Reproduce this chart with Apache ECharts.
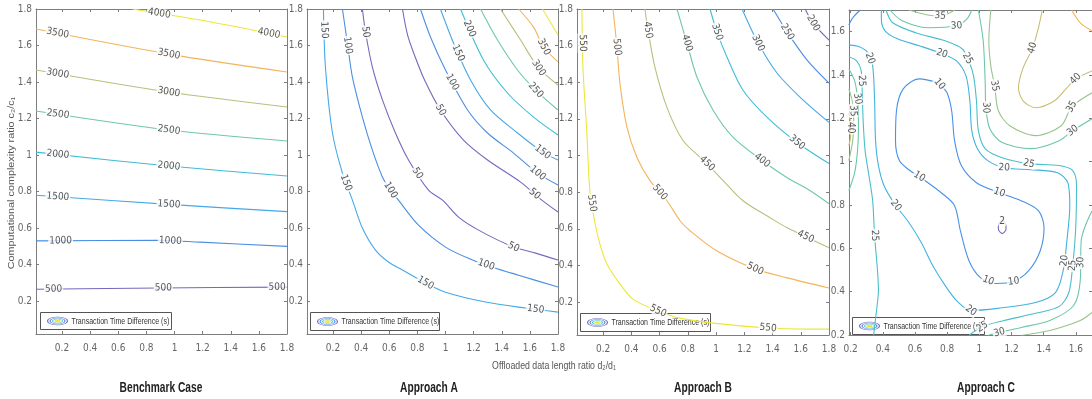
<!DOCTYPE html>
<html>
<head>
<meta charset="utf-8">
<script src="https://cdn.jsdelivr.net/npm/echarts@6/dist/echarts.min.js"></script>
<style>
  html, body { margin: 0; padding: 0; background: #fff; }
  #main { width: 1092px; height: 399px; }
</style>
</head>
<body>
<div id="main"></div>
<script>
// tick values of the ratio axes
var ratioTicks = [0.2, 0.4, 0.6, 0.8, 1, 1.2, 1.4, 1.6, 1.8];
var ratioTicksC = [0.2, 0.4, 0.6, 0.8, 1, 1.2, 1.4, 1.6];

// contour levels per panel (first/last give the colour range)
var benchLevels = [500, 1000, 1500, 2000, 2500, 3000, 3500, 4000];
var aLevels = [50, 100, 150, 200, 250, 300, 350, 400];
var bLevels = [200, 250, 300, 350, 400, 450, 500, 550];
var cLevels = [2, 10, 20, 25, 30, 35, 40, 45, 52];

// traced contour lines: [d2/d1, c2/c1] points and where the inline labels sit
var benchLines = [
  { level: 500, pts: [[0.015, 0.265], [0.9, 0.272], [1.8, 0.277]], marks: [[0.14, 0.266], [0.92, 0.272], [1.73, 0.277]] },
  { level: 1000, pts: [[0.015, 0.53], [0.88, 0.533], [1.18, 0.523], [1.8, 0.5]], marks: [[0.19, 0.53], [0.97, 0.53]] },
  { level: 1500, pts: [[0.015, 0.78], [0.96, 0.73], [1.8, 0.69]], marks: [[0.17, 0.77], [0.96, 0.73]] },
  { level: 2000, pts: [[0.015, 1.016], [0.96, 0.94], [1.8, 0.885]], marks: [[0.17, 1.0], [0.96, 0.94]] },
  { level: 2500, pts: [[0.015, 1.241], [0.96, 1.137], [1.8, 1.077]], marks: [[0.17, 1.22], [0.96, 1.137]] },
  { level: 3000, pts: [[0.015, 1.466], [0.96, 1.345], [1.8, 1.263]], marks: [[0.17, 1.45], [0.96, 1.345]] },
  { level: 3500, pts: [[0.015, 1.69], [0.96, 1.553], [1.8, 1.455]], marks: [[0.17, 1.67], [0.96, 1.553]] },
  { level: 4000, pts: [[0.7, 1.8], [1.26, 1.729], [1.8, 1.647]], marks: [[0.89, 1.77], [1.67, 1.66]] }
];

var aLines = [
  { level: 150, pts: [[0.132, 1.8], [0.146, 1.482], [0.196, 1.121], [0.267, 0.901], [0.338, 0.753], [0.409, 0.6], [0.502, 0.479], [0.594, 0.414], [0.694, 0.37], [0.858, 0.299], [1.0, 0.249], [1.285, 0.195], [1.569, 0.162], [1.8, 0.14]], marks: [[0.132, 1.685], [0.288, 0.847], [0.858, 0.3], [1.641, 0.155]] },
  { level: 100, pts: [[0.267, 1.8], [0.302, 1.614], [0.338, 1.427], [0.409, 1.208], [0.48, 1.027], [0.552, 0.879], [0.609, 0.808], [0.665, 0.753], [0.808, 0.616], [1.0, 0.496], [1.192, 0.425], [1.335, 0.386], [1.52, 0.342], [1.8, 0.277]], marks: [[0.302, 1.6], [0.609, 0.808], [1.285, 0.39]] },
  { level: 50, pts: [[0.409, 1.8], [0.431, 1.674], [0.48, 1.482], [0.552, 1.301], [0.644, 1.121], [0.737, 0.973], [0.879, 0.808], [0.979, 0.753], [1.093, 0.66], [1.235, 0.589], [1.484, 0.496], [1.641, 0.463], [1.8, 0.425]], marks: [[0.431, 1.674], [0.801, 0.9], [1.484, 0.496]] },
  { level: 50, pts: [[0.694, 1.8], [0.73, 1.658], [0.779, 1.548], [0.851, 1.411], [0.964, 1.247], [1.128, 1.082], [1.299, 0.973], [1.534, 0.852], [1.676, 0.759], [1.8, 0.688]], marks: [[0.964, 1.247], [1.626, 0.78]] },
  { level: 100, pts: [[0.822, 1.8], [0.893, 1.647], [1.0, 1.466], [1.157, 1.247], [1.299, 1.121], [1.484, 1.011], [1.655, 0.901], [1.8, 0.836]], marks: [[1.05, 1.4], [1.655, 0.901]] },
  { level: 150, pts: [[0.964, 1.8], [1.057, 1.614], [1.178, 1.411], [1.32, 1.247], [1.512, 1.121], [1.69, 1.016], [1.8, 0.973]], marks: [[1.093, 1.56], [1.69, 1.016]] },
  { level: 200, pts: [[1.107, 1.8], [1.27, 1.521], [1.441, 1.34], [1.626, 1.208], [1.8, 1.11]], marks: [[1.164, 1.69]] },
  { level: 250, pts: [[1.249, 1.8], [1.37, 1.63], [1.512, 1.466], [1.641, 1.356], [1.8, 1.247]], marks: [[1.641, 1.356]] },
  { level: 300, pts: [[1.391, 1.8], [1.534, 1.63], [1.662, 1.477], [1.8, 1.384]], marks: [[1.662, 1.477]] },
  { level: 350, pts: [[1.52, 1.8], [1.626, 1.701], [1.698, 1.592], [1.8, 1.51]], marks: [[1.698, 1.592]] },
  { level: 400, pts: [[1.69, 1.8], [1.8, 1.658]], marks: [] }
];

var bLines = [
  { level: 550, pts: [[0.05, 1.8], [0.057, 1.482], [0.085, 1.121], [0.106, 0.808], [0.142, 0.633], [0.177, 0.518], [0.227, 0.408], [0.319, 0.299], [0.411, 0.216], [0.589, 0.151], [0.745, 0.112], [0.979, 0.085], [1.369, 0.058], [1.617, 0.052], [1.8, 0.052]], marks: [[0.05, 1.614], [0.121, 0.74], [0.589, 0.151], [1.369, 0.058]] },
  { level: 500, pts: [[0.27, 1.8], [0.298, 1.592], [0.319, 1.395], [0.369, 1.153], [0.44, 0.989], [0.532, 0.863], [0.652, 0.753], [0.745, 0.644], [0.816, 0.589], [1.007, 0.479], [1.277, 0.381], [1.504, 0.332], [1.8, 0.277]], marks: [[0.298, 1.592], [0.603, 0.8], [1.277, 0.381]] },
  { level: 450, pts: [[0.496, 1.8], [0.518, 1.685], [0.567, 1.482], [0.652, 1.263], [0.766, 1.082], [0.936, 0.956], [1.05, 0.863], [1.191, 0.753], [1.383, 0.66], [1.504, 0.605], [1.8, 0.496]], marks: [[0.518, 1.685], [0.936, 0.956], [1.631, 0.55]] },
  { level: 400, pts: [[0.723, 1.8], [0.794, 1.614], [0.865, 1.427], [0.979, 1.247], [1.121, 1.099], [1.326, 0.973], [1.504, 0.879], [1.667, 0.808], [1.8, 0.737]], marks: [[0.794, 1.614], [1.326, 0.973]] },
  { level: 350, pts: [[0.957, 1.8], [1.007, 1.674], [1.078, 1.537], [1.191, 1.356], [1.362, 1.208], [1.574, 1.071], [1.8, 0.956]], marks: [[1.007, 1.674], [1.574, 1.071]] },
  { level: 300, pts: [[1.184, 1.8], [1.298, 1.614], [1.433, 1.449], [1.596, 1.318], [1.8, 1.181]], marks: [[1.298, 1.614]] },
  { level: 250, pts: [[1.404, 1.8], [1.504, 1.674], [1.645, 1.521], [1.8, 1.395]], marks: [[1.504, 1.674]] },
  { level: 200, pts: [[1.631, 1.8], [1.688, 1.723], [1.8, 1.63]], marks: [[1.688, 1.723]] }
];

var cLines = [
  { level: 10, pts: [[0.189, 1.631], [0.213, 1.664], [0.26, 1.7]], marks: [] },
  { level: 20, pts: [[0.189, 1.539], [0.254, 1.53], [0.308, 1.502], [0.337, 1.442], [0.349, 1.281], [0.355, 1.097], [0.373, 0.982], [0.408, 0.889], [0.473, 0.806], [0.562, 0.719], [0.639, 0.627], [0.71, 0.521], [0.787, 0.429], [0.858, 0.359], [0.947, 0.313], [1.112, 0.323], [1.349, 0.35], [1.473, 0.396], [1.521, 0.498], [1.544, 0.636], [1.562, 0.797], [1.55, 0.903], [1.485, 0.949], [1.32, 0.963], [1.154, 0.972], [1.053, 1.005], [0.988, 1.06], [0.953, 1.143], [0.941, 1.281], [0.917, 1.396], [0.858, 1.465], [0.769, 1.498], [0.627, 1.535], [0.491, 1.567], [0.414, 1.604], [0.391, 1.659], [0.391, 1.7]], marks: [[0.314, 1.475], [0.479, 0.797], [0.947, 0.309], [1.515, 0.544], [1.154, 0.968], [0.769, 1.502]] },
  { level: 10, pts: [[0.746, 1.364], [0.627, 1.382], [0.527, 1.336], [0.485, 1.235], [0.479, 1.097], [0.503, 1.005], [0.568, 0.959], [0.627, 0.931], [0.769, 0.853], [0.846, 0.797], [0.882, 0.682], [0.935, 0.544], [1.006, 0.465], [1.101, 0.438], [1.213, 0.447], [1.308, 0.498], [1.379, 0.59], [1.402, 0.696], [1.367, 0.774], [1.26, 0.82], [1.124, 0.857], [0.982, 0.903], [0.888, 0.982], [0.846, 1.097], [0.828, 1.235], [0.799, 1.318], [0.746, 1.364]], marks: [[0.74, 1.35], [0.627, 0.931], [1.053, 0.447], [1.213, 0.447], [1.124, 0.857]] },
  { level: 2, pts: [[1.132, 0.726], [1.152, 0.726], [1.163, 0.71], [1.166, 0.696], [1.163, 0.682], [1.142, 0.668], [1.121, 0.682], [1.118, 0.696], [1.121, 0.71], [1.132, 0.726]], marks: [[1.142, 0.726]] },
  { level: 25, pts: [[0.189, 1.484], [0.237, 1.465], [0.266, 1.419], [0.272, 1.327], [0.278, 1.189], [0.29, 1.051], [0.314, 0.935], [0.337, 0.82], [0.349, 0.659], [0.367, 0.498], [0.373, 0.406], [0.361, 0.313], [0.343, 0.198]], marks: [[0.266, 1.373], [0.349, 0.659]] },
  { level: 30, pts: [[0.189, 1.429], [0.225, 1.373], [0.243, 1.29], [0.249, 1.166], [0.243, 1.051], [0.225, 0.949], [0.189, 0.866]], marks: [[0.243, 1.29]] },
  { level: 35, pts: [[0.189, 1.336], [0.213, 1.272], [0.219, 1.198], [0.213, 1.097], [0.189, 1.005]], marks: [[0.213, 1.235]] },
  { level: 40, pts: [[0.189, 1.221], [0.2, 1.175], [0.2, 1.12], [0.189, 1.074]], marks: [[0.198, 1.157]] },
  { level: 30, pts: [[0.444, 1.7], [0.521, 1.65], [0.68, 1.618], [0.858, 1.627], [0.923, 1.659], [0.953, 1.7]], marks: [[0.858, 1.627]] },
  { level: 35, pts: [[0.562, 1.7], [0.68, 1.677], [0.757, 1.673], [0.817, 1.687], [0.846, 1.7]], marks: [[0.757, 1.673]] },
  { level: 25, pts: [[0.42, 1.7], [0.462, 1.641], [0.609, 1.594], [0.787, 1.558], [0.893, 1.521], [0.935, 1.465], [0.964, 1.396], [0.982, 1.281], [0.994, 1.143], [1.036, 1.06], [1.142, 1.018], [1.308, 0.991], [1.497, 0.982], [1.58, 0.959], [1.604, 0.889], [1.598, 0.682], [1.58, 0.521], [1.556, 0.396], [1.497, 0.332], [1.349, 0.3], [1.154, 0.267], [1.024, 0.24], [0.935, 0.198]], marks: [[0.923, 1.475], [1.308, 0.991], [1.58, 0.521], [1.012, 0.245]] },
  { level: 30, pts: [[0.994, 1.7], [1.024, 1.558], [1.036, 1.373], [1.041, 1.249], [1.065, 1.152], [1.142, 1.088], [1.32, 1.06], [1.497, 1.097], [1.58, 1.143], [1.7, 1.198]], marks: [[1.041, 1.249], [1.58, 1.143]] },
  { level: 35, pts: [[1.071, 1.7], [1.059, 1.558], [1.071, 1.442], [1.095, 1.35], [1.118, 1.235], [1.189, 1.166], [1.349, 1.12], [1.509, 1.166], [1.574, 1.253], [1.7, 1.318]], marks: [[1.095, 1.35], [1.574, 1.253]] },
  { level: 40, pts: [[1.391, 1.7], [1.367, 1.618], [1.331, 1.525], [1.272, 1.433], [1.243, 1.341], [1.272, 1.281], [1.349, 1.249], [1.467, 1.281], [1.544, 1.341], [1.598, 1.382], [1.7, 1.419]], marks: [[1.331, 1.525], [1.598, 1.382]] },
  { level: 45, pts: [[1.574, 1.7], [1.627, 1.641], [1.7, 1.604]], marks: [] },
  { level: 30, pts: [[1.053, 0.198], [1.124, 0.212], [1.26, 0.235], [1.438, 0.267], [1.586, 0.336], [1.627, 0.452], [1.633, 0.636], [1.7, 0.774]], marks: [[1.124, 0.212], [1.628, 0.535]] },
  { level: 35, pts: [[1.26, 0.198], [1.438, 0.221], [1.627, 0.267], [1.7, 0.304]], marks: [] }
];

// layout of the four panels (pixels)
var panels = [
  { lines: benchLines, levels: benchLevels, x: [0.015, 1.8], y: [0.02, 1.8], xt: ratioTicks, yt: ratioTicks, box: [36, 9, 251, 325], title: 'Benchmark Case', tx: 161, legend: [40, 312, 131, 17] },
  { lines: aLines, levels: aLevels, x: [0.015, 1.8], y: [0.02, 1.8], xt: ratioTicks, yt: ratioTicks, box: [307, 9, 251, 325], title: 'Approach A', tx: 429, legend: [310, 312, 129, 18] },
  { lines: bLines, levels: bLevels, x: [0.015, 1.8], y: [0.02, 1.8], xt: ratioTicks, yt: ratioTicks, box: [577, 9, 252, 326], title: 'Approach B', tx: 703, legend: [580, 313, 130, 18] },
  { lines: cLines, levels: cLevels, x: [0.19, 1.7], y: [0.2, 1.7], xt: ratioTicksC, yt: ratioTicksC, box: [849, 10, 255, 325], title: 'Approach C', tx: 986, legend: [852, 317, 132, 17] }
];

// washed-out parula, as it looks in the picture
var palette = ['#7568bd', '#4a8ee6', '#45a8e8', '#3fbdd6', '#6fc8a6', '#b4c27c', '#f2b45c', '#ece63c'];
function hexRgb(h) {
  return [parseInt(h.substr(1, 2), 16), parseInt(h.substr(3, 2), 16), parseInt(h.substr(5, 2), 16)];
}
function levelColor(level, levels) {
  var lo = levels[0], hi = levels[levels.length - 1];
  var t = Math.max(0, Math.min(1, (level - lo) / (hi - lo)));
  var f = t * (palette.length - 1);
  var i = Math.min(Math.floor(f), palette.length - 2), u = f - i;
  var a = hexRgb(palette[i]), b = hexRgb(palette[i + 1]);
  var c = a.map(function (v, k) { return Math.round(v + (b[k] - v) * u); });
  return 'rgb(' + c.join(',') + ')';
}

var axisGrey = '#7d7d7d';
var tickFont = '"Liberation Sans Narrow", "DejaVu Sans Condensed", "Liberation Sans", sans-serif';
function fmt(v) { return String(Math.round(v * 10) / 10); }

var chart = echarts.init(document.getElementById('main'));

var grids = [], xAxes = [], yAxes = [], series = [], graphics = [];

panels.forEach(function (pn, k) {
  grids.push({ left: pn.box[0], top: pn.box[1], width: pn.box[2], height: pn.box[3] });

  var line = { onZero: false, lineStyle: { color: axisGrey, width: 1 } };
  var tick = function (vals) { return { inside: true, length: 3, customValues: vals, lineStyle: { color: axisGrey } }; };
  var lab = function (vals, m) {
    return { customValues: vals, formatter: fmt, color: '#666', fontSize: 10, fontFamily: tickFont, margin: m };
  };
  xAxes.push({ type: 'value', gridIndex: k, position: 'bottom', min: pn.x[0], max: pn.x[1], axisLine: line,
    axisTick: tick(pn.xt), axisLabel: lab(pn.xt, 9), splitLine: { show: false } });
  xAxes.push({ type: 'value', gridIndex: k, position: 'top', min: pn.x[0], max: pn.x[1], axisLine: line,
    axisTick: tick(pn.xt), axisLabel: { show: false }, splitLine: { show: false } });
  yAxes.push({ type: 'value', gridIndex: k, position: 'left', min: pn.y[0], max: pn.y[1], axisLine: line,
    axisTick: tick(pn.yt), axisLabel: lab(pn.yt, 4), splitLine: { show: false } });
  yAxes.push({ type: 'value', gridIndex: k, position: 'right', min: pn.y[0], max: pn.y[1], axisLine: line,
    axisTick: tick(pn.yt), axisLabel: { show: false }, splitLine: { show: false } });

  pn.lines.forEach(function (ln, i) {
    series.push({
      id: 'c' + k + '_' + i, type: 'line', xAxisIndex: 2 * k, yAxisIndex: 2 * k,
      data: ln.pts, showSymbol: false, smooth: 0.3, silent: true, z: 2,
      lineStyle: { color: levelColor(ln.level, pn.levels), width: 1.1 }
    });
  });
  series.push({
    id: 'm' + k, type: 'scatter', xAxisIndex: 2 * k, yAxisIndex: 2 * k, data: [],
    symbolSize: 1, itemStyle: { color: 'rgba(0,0,0,0)' }, silent: true, z: 5,
    label: { show: true, position: 'inside', formatter: function (p) { return p.name; },
      color: '#2a2a2a', fontSize: 10, fontFamily: tickFont, backgroundColor: '#fff', padding: [0, 1] }
  });

  // panel caption
  graphics.push({ type: 'text', x: pn.tx, y: 388, scaleX: 0.68, z: 100,
    style: { text: pn.title, font: 'bold 15px "Liberation Sans", sans-serif', fill: '#222', textAlign: 'center', textVerticalAlign: 'middle' } });

  // legend box
  var lg = pn.legend, cy = lg[3] / 2;
  var rings = ['#7568bd', '#4a8ee6', '#3fbdd6', '#ece63c'];
  var kids = [{ type: 'rect', shape: { x: 0, y: 0, width: lg[2], height: lg[3] }, style: { fill: '#fff', stroke: '#555', lineWidth: 1 } }];
  [10, 7.5, 5, 2.6].forEach(function (r, j) {
    kids.push({ type: 'circle', x: 17, y: cy, scaleY: 0.4, shape: { cx: 0, cy: 0, r: r },
      style: { fill: j === 3 ? rings[j] : 'none', stroke: rings[j], lineWidth: 1.2, strokeNoScale: true } });
  });
  kids.push({ type: 'text', x: 31, y: cy, scaleX: 0.74,
    style: { text: 'Transaction Time Difference (s)', font: '9.5px "Liberation Sans", sans-serif', fill: '#333', textVerticalAlign: 'middle' } });
  graphics.push({ type: 'group', x: lg[0] + 0.5, y: lg[1] + 0.5, z: 100, children: kids });
});

// shared axis titles
graphics.push({ type: 'text', x: 554, y: 366, scaleX: 0.76, z: 100,
  style: { text: 'Offloaded data length ratio d\u2082/d\u2081', font: '11.5px "Liberation Sans", sans-serif', fill: '#555', textAlign: 'center', textVerticalAlign: 'middle' } });
graphics.push({ type: 'text', x: 12, y: 183, rotation: Math.PI / 2, scaleX: 0.94, scaleY: 0.76, z: 100,
  style: { text: 'Computational complexity ratio c\u2082/c\u2081', font: '11.5px "Liberation Sans", sans-serif', fill: '#555', textAlign: 'center', textVerticalAlign: 'middle' } });

chart.setOption({
  animation: false,
  grid: grids,
  xAxis: xAxes,
  yAxis: yAxes,
  series: series,
  graphic: graphics
});

// snap each label onto its traced line and turn it along the line
function placeMarks(k, lines) {
  var finder = { xAxisIndex: 2 * k, yAxisIndex: 2 * k };
  var out = [];
  lines.forEach(function (ln) {
    var px = ln.pts.map(function (p) { return chart.convertToPixel(finder, p); });
    ln.marks.forEach(function (m) {
      var q = chart.convertToPixel(finder, m);
      var best = null;
      for (var i = 0; i < px.length - 1; i++) {
        var a = px[i], b = px[i + 1];
        var dx = b[0] - a[0], dy = b[1] - a[1];
        var len2 = dx * dx + dy * dy || 1;
        var u = ((q[0] - a[0]) * dx + (q[1] - a[1]) * dy) / len2;
        u = Math.max(0, Math.min(1, u));
        var sx = a[0] + u * dx, sy = a[1] + u * dy;
        var d = (sx - q[0]) * (sx - q[0]) + (sy - q[1]) * (sy - q[1]);
        if (!best || d < best.d) best = { d: d, p: [sx, sy], ang: Math.atan2(-dy, dx) * 180 / Math.PI };
      }
      var ang = best.ang;
      if (ang > 90) ang -= 180;
      if (ang < -90) ang += 180;
      out.push({ name: String(ln.level), value: chart.convertFromPixel(finder, best.p), label: { rotate: ang } });
    });
  });
  return out;
}

chart.setOption({
  series: panels.map(function (pn, k) { return { id: 'm' + k, data: placeMarks(k, pn.lines) }; })
});
</script>
</body>
</html>
